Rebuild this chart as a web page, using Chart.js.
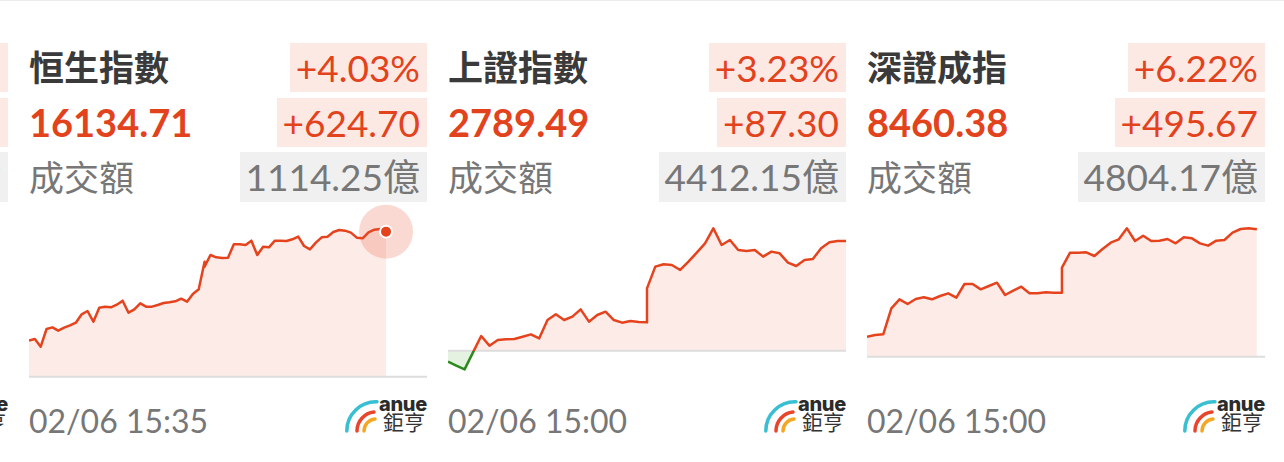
<!DOCTYPE html>
<html>
<head>
<meta charset="utf-8">
<script src="https://cdn.jsdelivr.net/npm/chart.js@4.4.1/dist/chart.umd.min.js"></script>
<style>
  html,body{margin:0;padding:0;background:#fff;}
  body{width:1284px;height:462px;overflow:hidden;position:relative;font-family:Lato,"Noto Sans CJK TC","Noto Sans",sans-serif;}
  .topline{position:absolute;left:0;top:0;width:1284px;height:1px;background:#ececec;}
  .panel{position:absolute;top:0;width:398px;height:462px;}
  .row{position:absolute;left:0;right:0;height:49px;line-height:49px;}
  .r1{top:43px}.r2{top:98px}.r3{top:152px;height:50px;line-height:50px;}
  .label{position:absolute;left:0;top:0;white-space:nowrap;}
  .tag{position:absolute;right:0;top:0;height:100%;padding:0 7px 0 6px;white-space:nowrap;font-size:37px;}
  .title{font-size:35px;font-weight:700;color:#3a3a3a;}
  .price{font-size:38px;font-weight:700;color:#e2421c;}
  .vlabel{font-size:35px;color:#777;}
  .up{background:#fde9e4;color:#e2421c;}
  .vol{background:#f0f0f0;color:#777;}
  .date{position:absolute;left:0;top:401px;font-size:32px;line-height:40px;color:#777;white-space:nowrap;}
  .logo{position:absolute;right:0;top:398px;width:82px;height:36px;overflow:visible;}
  canvas{position:absolute;top:200px;left:0;}
</style>
</head>
<body>
<div class="topline"></div>
<div id="root"></div>
<script>
// ---- header texts ----
const names   = ['恒生指數', '上證指數', '深證成指'];
const closes  = ['16134.71', '2789.49', '8460.38'];
const pcts    = ['+4.03%', '+3.23%', '+6.22%'];
const changes = ['+624.70', '+87.30', '+495.67'];
const volumes = ['1114.25億', '4412.15億', '4804.17億'];
const stamps  = ['02/06 15:35', '02/06 15:00', '02/06 15:00'];
const volLabel = '成交額';
const prevCloses = [15510.01, 2702.19, 7964.71];

// ---- intraday series (5-minute points) ----
const hkTimes = ['09:30','09:35','09:40','09:45','09:50','09:55','10:00','10:05','10:10','10:15','10:20','10:25','10:30','10:35','10:40','10:45','10:50','10:55','11:00','11:05','11:10','11:15','11:20','11:25','11:30','11:35','11:40','11:45','11:50','11:55','12:00',
  '13:00','13:05','13:10','13:15','13:20','13:25','13:30','13:35','13:40','13:45','13:50','13:55','14:00','14:05','14:10','14:15','14:20','14:25','14:30','14:35','14:40','14:45','14:50','14:55','15:00','15:05','15:10','15:15','15:20','15:25','15:30','15:35'];
const hsiValues = [15665.1,15672.3,15639.2,15715.4,15722.5,15708.2,15721.1,15731.2,15742.6,15778.6,15792.9,15747.0,15807.3,15811.6,15808.7,15820.2,15837.4,15785.7,15800.1,15825.9,15811.6,15811.6,15818.8,15827.4,15830.2,15834.6,15846.0,15833.1,15866.2,15886.3,16005.5,
  15983.9,16034.2,16024.1,16021.3,16022.7,16080.1,16080.1,16077.3,16095.9,16034.2,16070.1,16067.2,16095.9,16095.9,16094.5,16101.7,16113.2,16073.0,16058.6,16087.3,16110.3,16113.2,16133.3,16141.9,16139.0,16130.4,16108.9,16106.0,16131.8,16143.3,16146.2,16134.71];

const cnTimes = ['09:30','09:35','09:40','09:45','09:50','09:55','10:00','10:05','10:10','10:15','10:20','10:25','10:30','10:35','10:40','10:45','10:50','10:55','11:00','11:05','11:10','11:15','11:20','11:25','11:30',
  '13:00','13:05','13:10','13:15','13:20','13:25','13:30','13:35','13:40','13:45','13:50','13:55','14:00','14:05','14:10','14:15','14:20','14:25','14:30','14:35','14:40','14:45','14:50','14:55','15:00'];
const sseValues = [2693.43,2690.25,2687.33,2700.60,2713.87,2706.17,2710.68,2711.21,2711.48,2713.33,2715.19,2712.01,2726.60,2731.11,2726.60,2729.26,2735.09,2725.28,2730.58,2733.24,2726.60,2724.48,2725.81,2725.01,2724.74,
  2751.81,2769.06,2770.92,2770.38,2766.40,2773.04,2780.20,2787.63,2799.57,2786.31,2790.29,2782.33,2781.53,2782.33,2777.02,2781.00,2779.67,2772.24,2769.59,2774.37,2775.16,2783.65,2788.43,2789.49,2789.49];
const szseValues = [8042.56,8049.05,8051.65,8152.86,8187.89,8169.73,8189.19,8195.68,8187.89,8200.87,8211.25,8194.38,8247.58,8247.58,8226.82,8239.79,8252.77,8204.76,8221.63,8237.20,8211.25,8211.25,8215.14,8213.84,8213.84,
  8311.16,8369.55,8369.55,8370.85,8356.58,8383.83,8408.48,8421.45,8464.27,8414.97,8435.73,8414.97,8416.26,8422.75,8405.88,8429.24,8425.35,8405.88,8396.80,8416.26,8418.86,8447.41,8461.68,8464.27,8460.38];

// ---- layout / scale settings (not data) ----
const panelLefts = [-390, 29, 448, 867];
const seriesCfg = [
  {times: hkTimes, values: hsiValues, lunch: ['12:00','13:00'], xMax: 340, yMin: 15452.6, yMax: 16271.1, marker: true},
  {times: cnTimes, values: sseValues, lunch: ['11:30','13:00'], xMax: 240, yMin: 2670.9, yMax: 2822.1, marker: false},
  {times: cnTimes, values: szseValues, lunch: ['11:30','13:00'], xMax: 245, yMin: 7834.95, yMax: 8574.6, marker: false}
];

const RED = '#e5431d', GREEN = '#2b8a1c', FILL_UP = '#fdebe7', FILL_DOWN = '#e6f2e1';

function toMin(s){ const p = s.split(':').map(Number); return p[0]*60 + p[1]; }
function tradeMin(s, lunch){
  const t = toMin(s), open = toMin('09:30'), ls = toMin(lunch[0]), le = toMin(lunch[1]);
  return t <= ls ? t - open : (ls - open) + (t - le);
}

// halo + dot on the latest point, placed from the dataset's own element position
const lastMarker = {
  id: 'lastMarker',
  afterDatasetsDraw(chart, args, opts) {
    if (!opts || !opts.show) return;
    const meta = chart.getDatasetMeta(0);
    const el = meta.data[meta.data.length - 1];
    if (!el) return;
    const c = chart.ctx;
    c.save();
    c.beginPath(); c.arc(el.x, el.y, 27, 0, Math.PI * 2);
    c.fillStyle = 'rgba(232,80,50,0.22)'; c.fill();
    c.beginPath(); c.arc(el.x, el.y, 6, 0, Math.PI * 2);
    c.fillStyle = RED; c.fill();
    c.lineWidth = 2; c.strokeStyle = '#ffffff'; c.stroke();
    c.restore();
  }
};

function logoSVG(){
  return '<svg class="logo" viewBox="0 0 82 36" width="82" height="36" xmlns="http://www.w3.org/2000/svg">' +
    '<path d="M1.8,33 A29.2,29.2 0 0 1 32,3.8" fill="none" stroke="#38bfd2" stroke-width="3.5" stroke-linecap="round"/>' +
    '<path d="M12,33 A19,19 0 0 1 29,14.1" fill="none" stroke="#e8452c" stroke-width="3.5" stroke-linecap="round"/>' +
    '<path d="M19,33 A12,12 0 0 1 30,21.05" fill="none" stroke="#f5a623" stroke-width="3.5" stroke-linecap="round"/>' +
    '<text x="82" y="12.5" text-anchor="end" font-family="Inter, \'DejaVu Sans\', sans-serif" font-weight="800" font-size="20" letter-spacing="-0.3" fill="#2b2b2b">anue</text>' +
    '<text x="80" y="32" text-anchor="end" font-family="\'Noto Sans CJK TC\', sans-serif" font-size="21" fill="#333">鉅亨</text>' +
    '</svg>';
}

const root = document.getElementById('root');

// partial panel at the left edge (only its right side is visible)
(function(){
  const p = document.createElement('div');
  p.className = 'panel';
  p.style.left = panelLefts[0] + 'px';
  p.innerHTML =
    '<div class="row r1"><span class="tag up">%</span></div>' +
    '<div class="row r2"><span class="tag up">&nbsp;</span></div>' +
    '<div class="row r3"><span class="tag vol">億</span></div>' + logoSVG();
  root.appendChild(p);
})();

seriesCfg.forEach((cfg, i) => {
  const p = document.createElement('div');
  p.className = 'panel';
  p.style.left = panelLefts[i + 1] + 'px';
  p.innerHTML =
    '<div class="row r1"><span class="label title">' + names[i] + '</span><span class="tag up">' + pcts[i] + '</span></div>' +
    '<div class="row r2"><span class="label price">' + closes[i] + '</span><span class="tag up">' + changes[i] + '</span></div>' +
    '<div class="row r3"><span class="label vlabel">' + volLabel + '</span><span class="tag vol">' + volumes[i] + '</span></div>' +
    '<div class="date">' + stamps[i] + '</div>' + logoSVG();
  const cv = document.createElement('canvas');
  cv.width = 398; cv.height = 190;
  cv.style.width = '398px'; cv.style.height = '190px';
  p.appendChild(cv);
  root.appendChild(p);

  const prev = prevCloses[i];
  const pts = cfg.times.map((t, k) => ({x: tradeMin(t, cfg.lunch), y: cfg.values[k]}));

  const datasets = [
    {
      data: pts,
      borderWidth: 2.5,
      pointRadius: 0,
      tension: 0,
      borderJoinStyle: 'round',
      order: 1,
      fill: {target: {value: prev}, above: FILL_UP, below: FILL_DOWN},
      borderColor: (ctx) => {
        const ch = ctx.chart, area = ch.chartArea;
        if (!area) return RED;
        const yb = ch.scales.y.getPixelForValue(prev);
        let t = (yb - area.top) / (area.bottom - area.top);
        t = Math.max(0, Math.min(1, t));
        const g = ch.ctx.createLinearGradient(0, area.top, 0, area.bottom);
        g.addColorStop(0, RED); g.addColorStop(t, RED);
        g.addColorStop(t, GREEN); g.addColorStop(1, GREEN);
        return g;
      }
    },
    {
      data: [{x: 0, y: prev}, {x: cfg.xMax, y: prev}],
      borderColor: '#dddddd', borderWidth: 2, pointRadius: 0, fill: false, order: 2
    }
  ];

  new Chart(cv, {
    type: 'line',
    data: {datasets},
    plugins: [lastMarker],
    options: {
      responsive: false,
      animation: false,
      devicePixelRatio: 1,
      events: [],
      layout: {padding: 0},
      scales: {
        x: {type: 'linear', min: 0, max: cfg.xMax, display: false},
        y: {type: 'linear', min: cfg.yMin, max: cfg.yMax, display: false}
      },
      plugins: {
        legend: {display: false},
        tooltip: {enabled: false},
        filler: {drawTime: 'beforeDatasetsDraw'},
        lastMarker: {show: cfg.marker}
      }
    }
  });
});
</script>
</body>
</html>
